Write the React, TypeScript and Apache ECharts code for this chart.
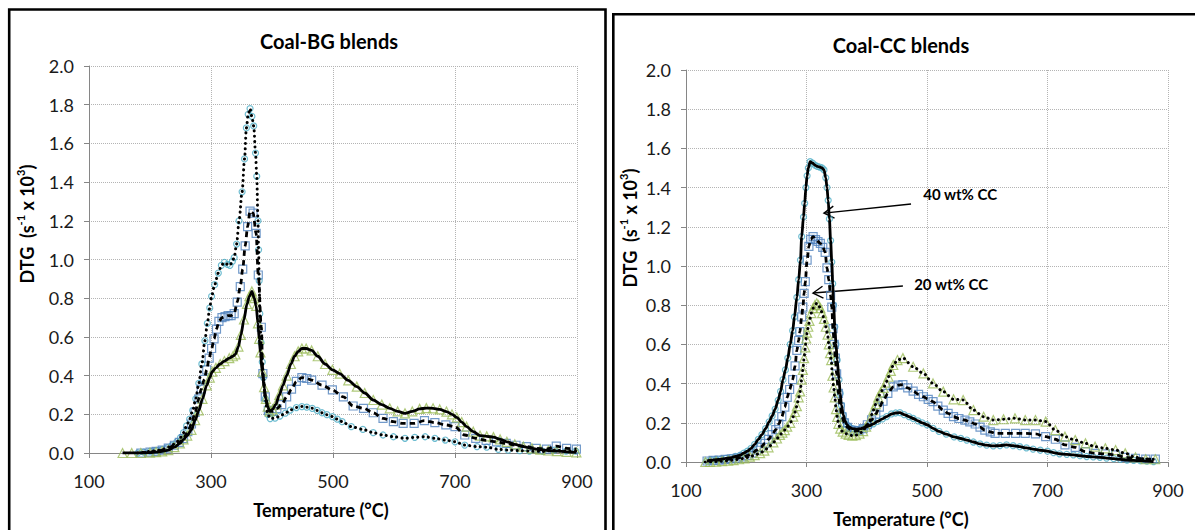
import React, { useEffect, useRef } from 'react';
import * as echarts from 'echarts';

// ---------- data (temperature °C, DTG s^-1 x 10^3) ----------
const xTicks = [100, 300, 500, 700, 900];

// Coal-BG blends
const bgHigh: [number, number][] = [
  [180,0],[190,0.004],[200,0.008],[210,0.012],[220,0.018],[228,0.027],[236,0.04],[244,0.058],[250,0.08],[255,0.105],
  [260,0.14],[265,0.175],[270,0.22],[275,0.28],[280,0.36],[285,0.46],[290,0.58],[294,0.67],[298,0.75],[301,0.81],
  [306,0.87],[312,0.93],[317,0.97],[322,0.985],[327,0.975],[331,0.97],[335,0.99],[338,1.01],[342,1.08],[346,1.2],
  [351,1.35],[355,1.52],[358,1.68],[361,1.75],[364,1.78],[367,1.74],[370,1.69],[373,1.55],[375,1.43],[377,1.2],
  [378,1.05],[379,0.89],[380,0.72],[382,0.57],[384,0.47],[386,0.39],[389,0.28],[393,0.2],[397,0.178],[405,0.18],
  [413,0.191],[422,0.206],[430,0.222],[440,0.235],[449,0.24],[457,0.237],[466,0.231],[474,0.22],[482,0.208],[490,0.198],
  [499,0.188],[507,0.175],[515,0.162],[530,0.136],[549,0.122],[566,0.105],[582,0.093],[599,0.084],[618,0.076],[634,0.081],
  [651,0.084],[667,0.076],[684,0.067],[700,0.058],[716,0.041],[736,0.033],[752,0.03],[771,0.019],[787,0.015],[806,0.012],
  [822,0.01],[844,0.008],[863,0.015],[882,0.01],[898,0.01],
];
const bgMid: [number, number][] = [
  [185,0],[200,0.005],[210,0.008],[220,0.015],[230,0.025],[240,0.04],[248,0.055],[255,0.075],[262,0.11],[268,0.15],
  [274,0.21],[280,0.28],[284,0.33],[289,0.38],[293,0.43],[297,0.49],[301,0.54],[305,0.59],[309,0.64],[313,0.68],
  [318,0.7],[323,0.705],[328,0.71],[333,0.71],[338,0.72],[343,0.78],[348,0.86],[352,0.95],[356,1.07],[360,1.17],
  [364,1.25],[369,1.24],[374,1.135],[377.5,0.92],[382.5,0.65],[385,0.41],[389,0.29],[394,0.22],[400,0.215],[408,0.23],
  [416,0.25],[424,0.29],[432,0.33],[440,0.37],[449,0.39],[457,0.385],[465,0.377],[482,0.351],[499,0.326],[517,0.29],
  [533,0.243],[550,0.231],[566,0.208],[582,0.179],[599,0.162],[615,0.153],[633,0.153],[650,0.167],[667,0.157],[685,0.145],
  [700,0.136],[716,0.093],[734,0.076],[751,0.065],[768,0.058],[784,0.05],[800,0.04],[817,0.033],[833,0.024],[850,0.02],
  [866,0.036],[883,0.024],[899,0.02],
];
const bgLow: [number, number][] = [
  [155,0],[170,0],[185,0],[200,0.002],[210,0.005],[220,0.008],[230,0.015],[240,0.03],[249,0.05],[255,0.07],
  [261,0.09],[268,0.12],[274,0.17],[280,0.22],[286,0.28],[293,0.35],[298,0.39],[302,0.42],[308,0.44],[315,0.46],
  [322,0.475],[330,0.49],[336,0.5],[340,0.51],[345,0.55],[349,0.61],[354,0.69],[359,0.77],[363,0.81],[367,0.835],
  [371,0.8],[374,0.76],[377,0.67],[379,0.59],[381,0.52],[384,0.42],[387,0.34],[390,0.28],[393,0.24],[396,0.215],
  [401,0.225],[406,0.25],[412,0.3],[418,0.35],[424,0.4],[431,0.46],[437,0.5],[443,0.525],[449,0.54],[456,0.54],
  [465,0.53],[475,0.5],[487,0.46],[499,0.43],[511,0.41],[525,0.375],[539,0.343],[552,0.31],[566,0.274],[580,0.25],
  [593,0.231],[606,0.215],[618,0.205],[630,0.215],[642,0.228],[653,0.232],[664,0.231],[675,0.225],[686,0.214],[695,0.2],
  [703,0.184],[711,0.16],[719,0.136],[730,0.11],[741,0.09],[752,0.086],[763,0.082],[774,0.07],[785,0.058],[798,0.045],
  [812,0.033],[826,0.024],[840,0.017],[853,0.013],[867,0.01],[883,0.006],[899,0.003],
];

// Coal-CC blends
const ccHigh: [number, number][] = [
  [135,0.005],[142,0.01],[150,0.012],[158,0.015],[166,0.018],[174,0.022],[182,0.028],[190,0.035],[196,0.045],[202,0.055],
  [208,0.07],[214,0.09],[220,0.115],[226,0.14],[232,0.17],[238,0.205],[243,0.235],[248,0.27],[253,0.315],[257,0.36],
  [261,0.42],[265,0.47],[269,0.53],[273,0.6],[277,0.67],[280,0.74],[284,0.84],[287,0.93],[290,1.03],[292,1.15],
  [295,1.25],[297,1.32],[299,1.4],[301,1.46],[303,1.5],[306,1.532],[310,1.525],[314,1.515],[318,1.508],[322,1.505],
  [326,1.5],[329,1.49],[332,1.45],[334,1.4],[336,1.335],[338,1.24],[340,1.13],[342,1.02],[343.5,0.91],[345,0.8],
  [347,0.69],[349,0.6],[351,0.52],[354,0.42],[356,0.35],[358,0.29],[361,0.24],[364,0.21],[367,0.19],[371,0.178],
  [376,0.17],[383,0.167],[390,0.17],[397,0.176],[404,0.185],[411,0.195],[418,0.207],[426,0.22],[433,0.232],[441,0.245],
  [448,0.25],[455,0.252],[462,0.242],[470,0.232],[477,0.222],[485,0.21],[492,0.2],[500,0.19],[510,0.172],[520,0.156],
  [532,0.142],[545,0.128],[556,0.12],[566,0.112],[577,0.102],[588,0.092],[599,0.086],[610,0.082],[621,0.084],[632,0.087],
  [643,0.083],[654,0.078],[665,0.072],[676,0.066],[688,0.06],[700,0.055],[710,0.048],[720,0.042],[732,0.039],[743,0.036],
  [754,0.032],[765,0.028],[776,0.026],[787,0.024],[798,0.02],[810,0.017],[821,0.013],[832,0.01],[843,0.008],[854,0.007],
  [865,0.004],[876,0.002],
];
const ccMid: [number, number][] = [
  [135,0.005],[145,0.008],[155,0.01],[165,0.013],[175,0.016],[185,0.02],[195,0.026],[203,0.034],[210,0.045],[217,0.06],
  [224,0.075],[231,0.095],[237,0.115],[243,0.14],[249,0.165],[254,0.195],[259,0.231],[264,0.28],[268,0.33],[272,0.37],
  [277,0.42],[281,0.49],[284,0.57],[287,0.62],[289,0.665],[292,0.74],[294,0.79],[296,0.86],[298,0.92],[301,1.03],
  [304,1.1],[307,1.136],[311,1.15],[315,1.135],[319,1.125],[323,1.115],[327,1.095],[331,1.07],[334,0.99],[337,0.93],
  [340,0.85],[342,0.79],[344,0.68],[346,0.6],[348,0.53],[350,0.45],[353,0.35],[356,0.28],[359,0.23],[363,0.2],
  [368,0.177],[374,0.163],[380,0.158],[387,0.16],[394,0.17],[401,0.19],[408,0.215],[415,0.245],[421,0.28],[427,0.31],
  [435,0.35],[444,0.383],[452,0.392],[460,0.395],[468,0.378],[477,0.362],[486,0.345],[494,0.333],[502,0.32],[510,0.308],
  [518,0.285],[527,0.265],[535,0.248],[544,0.231],[553,0.222],[563,0.214],[571,0.205],[580,0.194],[588,0.178],[596,0.163],
  [605,0.154],[613,0.146],[630,0.146],[647,0.146],[663,0.146],[680,0.143],[697,0.129],[713,0.116],[729,0.087],[746,0.075],
  [763,0.053],[779,0.044],[796,0.041],[813,0.036],[829,0.024],[846,0.019],[863,0.015],[879,0.015],
];
const ccLow: [number, number][] = [
  [132,0],[140,0],[150,0.002],[160,0.004],[170,0.007],[179,0.01],[188,0.014],[197,0.019],[206,0.027],[214,0.035],
  [223,0.045],[230,0.058],[237,0.075],[245,0.1],[251,0.12],[256,0.138],[260,0.15],[264,0.163],[268,0.18],[273,0.2],
  [278,0.231],[281,0.255],[284,0.285],[287,0.33],[289.5,0.36],[292,0.42],[294,0.47],[296,0.53],[298,0.585],[299.5,0.63],
  [301,0.66],[303,0.69],[305,0.72],[308,0.76],[311,0.785],[314,0.8],[317,0.81],[320,0.8],[323,0.785],[326,0.76],
  [329,0.73],[332,0.69],[335,0.65],[337,0.6],[339,0.555],[341,0.52],[343,0.44],[345,0.38],[347,0.33],[349,0.27],
  [351,0.23],[353,0.195],[356,0.17],[360,0.155],[365,0.145],[370,0.138],[376,0.135],[382,0.137],[388,0.145],[394,0.158],
  [399,0.18],[405,0.214],[411,0.265],[415,0.295],[419,0.33],[423,0.355],[428,0.378],[432,0.405],[436,0.435],[440,0.465],
  [444,0.495],[451,0.52],[460,0.53],[477,0.486],[494,0.452],[510,0.401],[527,0.359],[544,0.32],[560,0.316],[577,0.265],
  [594,0.231],[610,0.214],[627,0.218],[646,0.223],[663,0.214],[680,0.214],[697,0.206],[713,0.163],[729,0.129],[746,0.112],
  [763,0.095],[779,0.078],[796,0.07],[813,0.061],[829,0.044],[846,0.024],[863,0.014],[879,0.014],
];

const panelTitles = ['Coal-BG blends', 'Coal-CC blends'];
const xTitle = 'Temperature (°C)';
const ccNotes = ['40 wt% CC', '20 wt% CC'];

// ---------- styling ----------
const FONT = 'Lato, "Open Sans", "DejaVu Sans", sans-serif';
const C_CIRCLE = '#4bacc6';
const C_SQUARE = '#4f81bd';
const C_TRI = '#9bbb59';

type LineKind = 'solid' | 'dashed' | 'dotted';
const lineStyleOf = (k: LineKind) => {
  if (k === 'solid') return { color: '#000', width: 2.8, type: 'solid' as const };
  if (k === 'dashed') return { color: '#000', width: 2.8, type: [5.5, 4] };
  return { color: '#000', width: 3, type: [0.1, 5.2], cap: 'round' as const };
};

const App: React.FC = () => {
  const ref = useRef<HTMLDivElement>(null);

  useEffect(() => {
    if (!ref.current) return;
    const chart = echarts.init(ref.current, undefined, { renderer: 'svg' });

    const grids = [
      { left: 89, top: 66, width: 488, height: 387 },
      { left: 686, top: 70, width: 482, height: 392 },
    ];

    const axisColor = '#868686';
    const xAxes = grids.map((_, i) => ({
      gridIndex: i,
      type: 'value' as const,
      min: xTicks[0],
      max: xTicks[xTicks.length - 1],
      interval: 200,
      axisLine: { show: true, onZero: false, lineStyle: { color: axisColor, width: 1 } },
      axisTick: { show: true, length: 5, lineStyle: { color: axisColor } },
      axisLabel: { fontSize: 18, color: '#1a1a1a', margin: 19, fontFamily: FONT, showMinLabel: true, showMaxLabel: true },
      splitLine: { show: true, lineStyle: { color: '#b4b4b4', type: 'dotted' as const, width: 1 } },
    }));
    const yAxes = grids.map((_, i) => ({
      gridIndex: i,
      type: 'value' as const,
      min: 0,
      max: 2,
      interval: 0.2,
      axisLine: { show: true, onZero: false, lineStyle: { color: axisColor, width: 1 } },
      axisTick: { show: true, length: 5, lineStyle: { color: axisColor } },
      axisLabel: {
        fontSize: 18, color: '#1a1a1a', margin: 15, fontFamily: FONT,
        formatter: (v: number) => v.toFixed(1), showMinLabel: true, showMaxLabel: true,
      },
      splitLine: { show: true, lineStyle: { color: '#b4b4b4', type: 'dotted' as const, width: 1 } },
    }));

    const blends: { data: [number, number][]; panel: number; symbol: string; size: number; color: string; line: LineKind }[] = [
      { data: bgHigh, panel: 0, symbol: 'circle', size: 6, color: C_CIRCLE, line: 'dotted' },
      { data: bgMid, panel: 0, symbol: 'rect', size: 8, color: C_SQUARE, line: 'dashed' },
      { data: bgLow, panel: 0, symbol: 'triangle', size: 9, color: C_TRI, line: 'solid' },
      { data: ccHigh, panel: 1, symbol: 'circle', size: 6, color: C_CIRCLE, line: 'solid' },
      { data: ccMid, panel: 1, symbol: 'rect', size: 8, color: C_SQUARE, line: 'dashed' },
      { data: ccLow, panel: 1, symbol: 'triangle', size: 9, color: C_TRI, line: 'dotted' },
    ];

    const markerSeries = blends.map((b) => ({
      type: 'scatter' as const,
      xAxisIndex: b.panel,
      yAxisIndex: b.panel,
      data: b.data,
      symbol: b.symbol,
      symbolSize: b.size,
      silent: true,
      itemStyle: { color: 'rgba(0,0,0,0)', borderColor: b.color, borderWidth: 1.2 },
    }));
    const lineSeries = blends.map((b) => ({
      type: 'line' as const,
      xAxisIndex: b.panel,
      yAxisIndex: b.panel,
      data: b.data,
      showSymbol: false,
      symbol: 'none',
      smooth: 0.3,
      smoothMonotone: 'x' as const,
      silent: true,
      lineStyle: lineStyleOf(b.line),
    }));

    chart.setOption({
      animation: false,
      backgroundColor: '#fff',
      textStyle: { fontFamily: FONT },
      grid: grids,
      xAxis: xAxes,
      yAxis: yAxes,
      series: [...markerSeries, ...lineSeries],
    });

    // ----- decorations: panel frames, titles, axis names, annotations -----
    const txt = (x: number, y: number, text: string, size: number, rot = 0, rich?: any) => ({
      type: 'text' as const,
      x, y, rotation: rot, silent: true,
      style: {
        text, fill: '#000', fontSize: size, fontWeight: 'bold', fontFamily: FONT,
        align: 'center', verticalAlign: 'middle', textAlign: 'center', textVerticalAlign: 'middle',
        rich,
      },
    });
    const yRich = {
      b: { fontSize: 18, fontWeight: 'bold', fontFamily: FONT, fill: '#000', lineHeight: 24, verticalAlign: 'middle' },
      sup: { fontSize: 11, fontWeight: 'bold', fontFamily: FONT, fill: '#000', lineHeight: 12, verticalAlign: 'top' },
    };
    const yText = '{b|DTG  (s}{sup|-1}{b| x 10}{sup|3}{b|)}';

    const px = (pt: [number, number]) => chart.convertToPixel({ xAxisIndex: 1, yAxisIndex: 1 }, pt) as number[];
    const arrow = (from: [number, number], to: [number, number]) => {
      const [sx, sy] = px(from);
      const [tx, ty] = px(to);
      const dx = tx - sx, dy = ty - sy;
      const len = Math.hypot(dx, dy);
      const ux = dx / len, uy = dy / len;
      const hl = 10, hw = 6;
      const p1 = [tx - ux * hl - uy * hw, ty - uy * hl + ux * hw];
      const p2 = [tx - ux * hl + uy * hw, ty - uy * hl - ux * hw];
      return [
        { type: 'line' as const, silent: true, shape: { x1: sx, y1: sy, x2: tx, y2: ty }, style: { stroke: '#000', lineWidth: 1.4 } },
        { type: 'polyline' as const, silent: true, shape: { points: [p1, [tx, ty], p2] }, style: { stroke: '#000', lineWidth: 1.4, fill: null } },
      ];
    };
    const note40 = px([555, 1.367]);
    const note20 = px([540, 0.908]);

    chart.setOption({
      graphic: [
        { type: 'rect', silent: true, shape: { x: 9.2, y: 9.5, width: 596.3, height: 620 }, style: { stroke: '#000', lineWidth: 2.6, fill: null } },
        { type: 'rect', silent: true, shape: { x: 613.3, y: 14.3, width: 700, height: 620 }, style: { stroke: '#000', lineWidth: 2.6, fill: null } },
        txt(329, 41, panelTitles[0], 20),
        txt(901, 45, panelTitles[1], 20),
        txt(321, 510, xTitle, 18),
        txt(901, 519, xTitle, 18),
        txt(27, 224, yText, 18, Math.PI / 2, yRich),
        txt(630, 228, yText, 18, Math.PI / 2, yRich),
        txt(note40[0], note40[1], ccNotes[0], 15),
        txt(note20[0], note20[1], ccNotes[1], 15),
        ...arrow([473.5, 1.316], [329, 1.27]),
        ...arrow([460, 0.898], [310.8, 0.862]),
      ],
    });

    return () => chart.dispose();
  }, []);

  return <div ref={ref} style={{ position: 'absolute', left: 0, top: 0, width: 1195, height: 530 }} />;
};

export default App;
